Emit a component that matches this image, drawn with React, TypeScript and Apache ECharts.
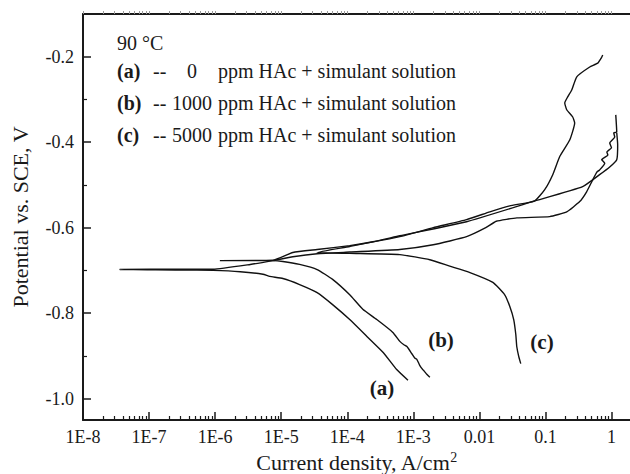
import React, { useEffect, useRef } from "react";
import * as echarts from "echarts";

// current density (A/cm²), potential (V vs SCE)
const curveA: [number, number][] = [
  [8.3e-4, -0.957], [5.6e-4, -0.932], [3.5e-4, -0.892], [2.0e-4, -0.855], [1.09e-4, -0.815],
  [6.0e-5, -0.78], [3.5e-5, -0.752], [1.9e-5, -0.733], [1.06e-5, -0.719], [6.7e-6, -0.714],
  [5.3e-6, -0.709], [2.4e-6, -0.703], [9.3e-7, -0.7], [3.0e-7, -0.699], [3.6e-8, -0.698],
  [3.0e-7, -0.697], [9.3e-7, -0.697], [3.4e-6, -0.686], [7.5e-6, -0.677], [1.5e-5, -0.668],
  [3.5e-5, -0.661], [1.09e-4, -0.657], [6.25e-4, -0.651], [2.0e-3, -0.64], [6.4e-3, -0.621],
  [0.0125, -0.6], [0.018, -0.585], [0.037, -0.577], [0.116, -0.574], [0.21, -0.563],
  [0.33, -0.539], [0.42, -0.516], [0.52, -0.488], [0.6, -0.47], [0.66, -0.465],
  [0.79, -0.449], [0.71, -0.441], [0.88, -0.43], [0.85, -0.423], [1.0, -0.413],
  [0.94, -0.402], [1.12, -0.388], [1.08, -0.378], [1.2, -0.376], [1.16, -0.336],
];

const curveB: [number, number][] = [
  [1.78e-3, -0.95], [1.6e-3, -0.943], [1.45e-3, -0.935], [1.39e-3, -0.932], [1.25e-3, -0.922],
  [1.13e-3, -0.908], [1.05e-3, -0.905], [9.5e-4, -0.895], [8.0e-4, -0.878], [7.2e-4, -0.874],
  [6.25e-4, -0.866], [4.9e-4, -0.845], [2.8e-4, -0.815], [1.72e-4, -0.791], [1.09e-4, -0.757],
  [6.0e-5, -0.721], [3.5e-5, -0.698], [1.9e-5, -0.686], [1.06e-5, -0.679], [7.5e-6, -0.677],
  [1.18e-6, -0.677], [7.5e-6, -0.676], [1.5e-5, -0.658], [3.5e-5, -0.651], [1.09e-4, -0.642],
  [2.44e-4, -0.633], [6.25e-4, -0.619], [6.4e-3, -0.586], [0.064, -0.539], [0.366, -0.504],
  [0.66, -0.476], [0.94, -0.458], [1.2, -0.441], [1.24, -0.406], [1.2, -0.378],
];

const curveC: [number, number][] = [
  [0.0423, -0.918], [0.0394, -0.901], [0.0368, -0.878], [0.0356, -0.85], [0.0331, -0.815],
  [0.0288, -0.784], [0.0242, -0.757], [0.016, -0.728], [7.2e-3, -0.705], [3.56e-3, -0.69],
  [1.78e-3, -0.675], [6.25e-4, -0.663], [1.09e-4, -0.66], [3.5e-5, -0.658], [1.09e-4, -0.644],
  [6.25e-4, -0.621], [2.0e-3, -0.6], [6.4e-3, -0.581], [0.0144, -0.563], [0.0288, -0.549],
  [0.069, -0.537], [0.0975, -0.511], [0.129, -0.476], [0.164, -0.434], [0.233, -0.395],
  [0.277, -0.355], [0.259, -0.341], [0.21, -0.324], [0.196, -0.308], [0.217, -0.294],
  [0.25, -0.278], [0.298, -0.247], [0.468, -0.224], [0.618, -0.215], [0.711, -0.201],
  [0.736, -0.196],
];

const xMajor = [-8, -7, -6, -5, -4, -3, -2, -1, 0];
const xTickLabels = ["1E-8", "1E-7", "1E-6", "1E-5", "1E-4", "1E-3", "0.01", "0.1", "1"];
const yMajor = [-1.0, -0.8, -0.6, -0.4, -0.2];
const yMinor = [-0.9, -0.7, -0.5, -0.3];
const legendRows = [
  { tag: "(a)", conc: "0" },
  { tag: "(b)", conc: "1000" },
  { tag: "(c)", conc: "5000" },
];

const FONT = "'Liberation Serif', 'Times New Roman', serif";
const INK = "#1a1a1a";

export default function App() {
  const ref = useRef<HTMLDivElement>(null);
  useEffect(() => {
    if (!ref.current) return;
    const chart = echarts.init(ref.current, null, { renderer: "svg" });
    const xMinor: number[] = [];
    xMajor.forEach((n) => {
      for (let k = 2; k <= 9; k++) {
        const v = n + Math.log10(k);
        if (v <= 0.28) xMinor.push(v);
      }
    });
    const toXY = (c: [number, number][]) => c.map(([i, e]) => [Math.log10(i), e]);
    const lineSeries = (name: string, c: [number, number][]) => ({
      name,
      type: "line",
      data: toXY(c),
      showSymbol: false,
      symbol: "none",
      smooth: 0.15,
      lineStyle: { color: "#111", width: 1.4 },
      z: 3,
    });
    const axisLineStyle = { color: INK, width: 2 };
    const graphics: any[] = [
      { type: "text", x: 117, y: 43, style: { text: "90 °C", fontSize: 20, fontFamily: FONT, fill: INK, verticalAlign: "middle" } },
    ];
    legendRows.forEach((r, idx) => {
      const y = 71 + idx * 32;
      graphics.push(
        { type: "text", x: 117, y, style: { text: r.tag, fontSize: 20, fontWeight: "bold", fontFamily: FONT, fill: INK, verticalAlign: "middle" } },
        { type: "text", x: 153, y, style: { text: "--", fontSize: 20, fontFamily: FONT, fill: INK, verticalAlign: "middle" } },
        { type: "text", x: 192, y, style: { text: r.conc, fontSize: 20, fontFamily: FONT, fill: INK, align: "center", verticalAlign: "middle" } },
        { type: "text", x: 218, y, style: { text: "ppm HAc + simulant solution", fontSize: 20, fontFamily: FONT, fill: INK, verticalAlign: "middle" } }
      );
    });
    const curveLabels = [
      { t: "(a)", x: 382, y: 388 },
      { t: "(b)", x: 441, y: 340 },
      { t: "(c)", x: 542, y: 342 },
    ];
    curveLabels.forEach((l) =>
      graphics.push({ type: "text", x: l.x, y: l.y, style: { text: l.t, fontSize: 21, fontWeight: "bold", fontFamily: FONT, fill: INK, align: "center", verticalAlign: "middle" } })
    );

    chart.setOption({
      animation: false,
      backgroundColor: "#fff",
      grid: { left: 83, right: 0, top: 14, bottom: 54, containLabel: false, outerBoundsMode: "none" },
      xAxis: [
        {
          type: "value", min: -8, max: 0.28, position: "bottom",
          axisLine: { show: true, onZero: false, lineStyle: axisLineStyle },
          axisTick: { show: true, inside: true, length: 8, customValues: xMajor, lineStyle: { color: INK, width: 1.5 } },
          axisLabel: {
            customValues: xMajor, fontSize: 18, fontFamily: FONT, color: INK, margin: 8,
            formatter: (v: number) => xTickLabels[xMajor.indexOf(Math.round(v))] ?? "",
          },
          splitLine: { show: false },
          name: "Current density, A/cm{sup|2}",
          nameLocation: "middle", nameGap: 29,
          nameTextStyle: {
            fontSize: 22, fontFamily: FONT, color: INK, lineHeight: 24,
            rich: { sup: { fontSize: 14, fontFamily: FONT, color: INK, lineHeight: 12, verticalAlign: "top" } },
          },
        },
        {
          type: "value", min: -8, max: 0.28, position: "bottom",
          axisLine: { show: false, onZero: false },
          axisTick: { show: true, inside: true, length: 4, customValues: xMinor, lineStyle: { color: INK, width: 1.2 } },
          axisLabel: { show: false },
          splitLine: { show: false },
        },
        {
          type: "value", min: -8, max: 0.28, position: "top",
          axisLine: { show: true, onZero: false, lineStyle: axisLineStyle },
          axisTick: { show: true, inside: false, length: 3, customValues: [...xMajor, ...xMinor], lineStyle: { color: "#999", width: 1 } },
          axisLabel: { show: false },
          splitLine: { show: false },
        },
      ],
      yAxis: [
        {
          type: "value", min: -1.05, max: -0.1, position: "left",
          axisLine: { show: true, onZero: false, lineStyle: axisLineStyle },
          axisTick: { show: true, inside: true, length: 8, customValues: yMajor, lineStyle: { color: INK, width: 1.5 } },
          axisLabel: {
            customValues: yMajor, fontSize: 18, fontFamily: FONT, color: INK, margin: 9,
            formatter: (v: number) => v.toFixed(1),
          },
          splitLine: { show: false },
          name: "Potential vs. SCE, V",
          nameLocation: "middle", nameGap: 52,
          nameTextStyle: { fontSize: 22, fontFamily: FONT, color: INK },
        },
        {
          type: "value", min: -1.05, max: -0.1, position: "left",
          axisLine: { show: false, onZero: false },
          axisTick: { show: true, inside: true, length: 4, customValues: yMinor, lineStyle: { color: INK, width: 1.2 } },
          axisLabel: { show: false },
          splitLine: { show: false },
        },
      ],
      series: [
        lineSeries("(a) 0 ppm HAc", curveA),
        lineSeries("(b) 1000 ppm HAc", curveB),
        lineSeries("(c) 5000 ppm HAc", curveC),
      ],
      graphic: graphics,
    });
    return () => chart.dispose();
  }, []);
  return (
    <div
      ref={ref}
      style={{ position: "absolute", left: 0, top: 0, width: 630, height: 474, background: "#fff" }}
    />
  );
}
